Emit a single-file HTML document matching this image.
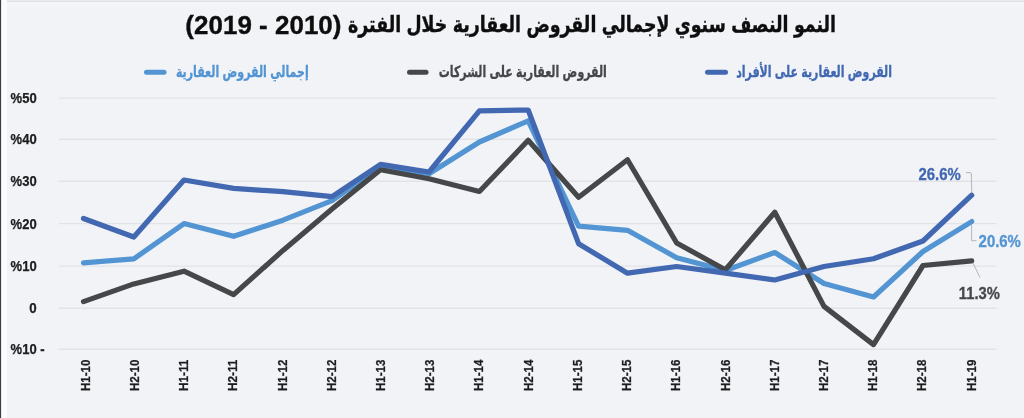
<!DOCTYPE html>
<html lang="ar">
<head>
<meta charset="utf-8">
<title>النمو النصف سنوي لإجمالي القروض العقارية</title>
<style>
html,body{margin:0;padding:0;}
body{width:1024px;height:418px;overflow:hidden;background:#f1f3f7;font-family:"Liberation Sans", "DejaVu Sans", sans-serif;}
svg{display:block;position:absolute;left:0;top:0;}
text{font-family:"Liberation Sans", "DejaVu Sans", sans-serif;font-weight:bold;}
text.ar{font-family:"Liberation Sans", "DejaVu Sans Condensed", "DejaVu Sans", sans-serif;}
.ylab{font-size:14px;fill:#1c1c1e;stroke:#1c1c1e;stroke-width:.25px;}
.xlab{font-size:12.3px;fill:#1c1c1e;stroke:#1c1c1e;stroke-width:.25px;}
.leg{font-size:15.5px;}
.val{font-size:16px;}
</style>
</head>
<body>
<svg width="1024" height="418" viewBox="0 0 1024 418">
<rect x="0" y="0" width="1024" height="418" fill="#f1f3f7"/>
<rect x="0" y="0" width="1024" height="1" fill="#e9eaee"/>
<rect x="0" y="1" width="1024" height="1" fill="#e0e1e6"/>
<rect x="0" y="2" width="1024" height="6" fill="#f4f5f9"/>
<rect x="1" y="0" width="6" height="418" fill="#fafbfe"/>
<rect x="0" y="0" width="1.1" height="418" fill="#3b3c41"/>

<defs><filter id="soft" filterUnits="userSpaceOnUse" x="0" y="0" width="1024" height="418"><feGaussianBlur stdDeviation="0.45"/></filter></defs>
<g filter="url(#soft)">
<text id="title" class="ar" x="836" y="31.7" direction="rtl" font-size="22.5" textLength="488" lengthAdjust="spacingAndGlyphs" fill="#0c0c0e" stroke="#0c0c0e" stroke-width="0.35">النمو النصف سنوي لإجمالي القروض العقارية خلال الفترة</text>
<text id="title2" x="341.5" y="34" direction="rtl" font-size="26" fill="#0c0c0e" stroke="#0c0c0e" stroke-width="0.35">(2010 - 2019)</text>
<g stroke-width="5" stroke-linecap="round" fill="none">
<line x1="146.5" y1="72.2" x2="164" y2="72.2" stroke="#5294d2"/>
<line x1="409.5" y1="72.2" x2="426" y2="72.2" stroke="#454649"/>
<line x1="707.5" y1="72.2" x2="725.5" y2="72.2" stroke="#4267b2"/>
</g>
<text id="leg1" class="leg ar" x="308.7" y="76.8" direction="rtl" textLength="132.8" lengthAdjust="spacingAndGlyphs" fill="#5294d2" stroke="#5294d2" stroke-width="0.3">إجمالي القروض العقارية</text>
<text id="leg2" class="leg ar" x="606.8" y="76.8" direction="rtl" textLength="168" lengthAdjust="spacingAndGlyphs" fill="#454649" stroke="#454649" stroke-width="0.3">القروض العقارية على الشركات</text>
<text id="leg3" class="leg ar" x="892" y="76.8" direction="rtl" textLength="155.8" lengthAdjust="spacingAndGlyphs" fill="#4267b2" stroke="#4267b2" stroke-width="0.3">القروض العقارية على الأفراد</text>
<g stroke="#e2e3e7" stroke-width="1.4">
<line x1="59" y1="98.1" x2="996.5" y2="98.1"/>
<line x1="59" y1="139.2" x2="996.5" y2="139.2"/>
<line x1="59" y1="181.2" x2="996.5" y2="181.2"/>
<line x1="59" y1="223.6" x2="996.5" y2="223.6"/>
<line x1="59" y1="266.1" x2="996.5" y2="266.1"/>
<line x1="59" y1="308.2" x2="996.5" y2="308.2"/>
<line x1="59" y1="349.3" x2="996.5" y2="349.3"/>
</g>
<text class="ylab" x="10.6" y="103.1" textLength="26.1" lengthAdjust="spacingAndGlyphs">%50</text>
<text class="ylab" x="10.6" y="144.2" textLength="26.1" lengthAdjust="spacingAndGlyphs">%40</text>
<text class="ylab" x="10.6" y="186.2" textLength="26.1" lengthAdjust="spacingAndGlyphs">%30</text>
<text class="ylab" x="10.6" y="228.6" textLength="26.1" lengthAdjust="spacingAndGlyphs">%20</text>
<text class="ylab" x="10.6" y="271.1" textLength="26.1" lengthAdjust="spacingAndGlyphs">%10</text>
<text class="ylab" x="29.3" y="313.2" textLength="7.4" lengthAdjust="spacingAndGlyphs">0</text>
<text class="ylab" x="10.6" y="354.3" textLength="34" lengthAdjust="spacingAndGlyphs">%10 -</text>
<text class="xlab" transform="translate(89.70,391) rotate(-90)" textLength="31.4" lengthAdjust="spacingAndGlyphs">H1-10</text>
<text class="xlab" transform="translate(138.92,391) rotate(-90)" textLength="31.4" lengthAdjust="spacingAndGlyphs">H2-10</text>
<text class="xlab" transform="translate(188.14,391) rotate(-90)" textLength="31.4" lengthAdjust="spacingAndGlyphs">H1-11</text>
<text class="xlab" transform="translate(237.36,391) rotate(-90)" textLength="31.4" lengthAdjust="spacingAndGlyphs">H2-11</text>
<text class="xlab" transform="translate(286.58,391) rotate(-90)" textLength="31.4" lengthAdjust="spacingAndGlyphs">H1-12</text>
<text class="xlab" transform="translate(335.80,391) rotate(-90)" textLength="31.4" lengthAdjust="spacingAndGlyphs">H2-12</text>
<text class="xlab" transform="translate(385.02,391) rotate(-90)" textLength="31.4" lengthAdjust="spacingAndGlyphs">H1-13</text>
<text class="xlab" transform="translate(434.24,391) rotate(-90)" textLength="31.4" lengthAdjust="spacingAndGlyphs">H2-13</text>
<text class="xlab" transform="translate(483.46,391) rotate(-90)" textLength="31.4" lengthAdjust="spacingAndGlyphs">H1-14</text>
<text class="xlab" transform="translate(532.68,391) rotate(-90)" textLength="31.4" lengthAdjust="spacingAndGlyphs">H2-14</text>
<text class="xlab" transform="translate(581.90,391) rotate(-90)" textLength="31.4" lengthAdjust="spacingAndGlyphs">H1-15</text>
<text class="xlab" transform="translate(631.12,391) rotate(-90)" textLength="31.4" lengthAdjust="spacingAndGlyphs">H2-15</text>
<text class="xlab" transform="translate(680.34,391) rotate(-90)" textLength="31.4" lengthAdjust="spacingAndGlyphs">H1-16</text>
<text class="xlab" transform="translate(729.56,391) rotate(-90)" textLength="31.4" lengthAdjust="spacingAndGlyphs">H2-16</text>
<text class="xlab" transform="translate(778.78,391) rotate(-90)" textLength="31.4" lengthAdjust="spacingAndGlyphs">H1-17</text>
<text class="xlab" transform="translate(828.00,391) rotate(-90)" textLength="31.4" lengthAdjust="spacingAndGlyphs">H2-17</text>
<text class="xlab" transform="translate(877.22,391) rotate(-90)" textLength="31.4" lengthAdjust="spacingAndGlyphs">H1-18</text>
<text class="xlab" transform="translate(926.44,391) rotate(-90)" textLength="31.4" lengthAdjust="spacingAndGlyphs">H2-18</text>
<text class="xlab" transform="translate(975.66,391) rotate(-90)" textLength="31.4" lengthAdjust="spacingAndGlyphs">H1-19</text>
<g stroke="#b4b5b9" stroke-width="1" fill="none">
<path d="M966 172.6 H970.3 Q971.3 172.6 971.3 174 L971.8 193"/>
<path d="M971.6 225 V240.7 H976.5"/>
<path d="M973 263 L980 277.5"/>
</g>
<g fill="none" stroke-width="5.2" stroke-linejoin="round" stroke-linecap="round">
<polyline stroke="#5294d2" points="83.5,262.8 133.8,258.8 184,223.6 233.6,236.3 283,220.2 332,200.6 380.5,166.4 429,173.8 479.4,142 528.2,120.8 578.6,226.2 627.5,230.3 676.7,257.7 725.3,270.5 774.8,252.5 824,283.5 873.5,297 923,251.5 971.7,221.6"/>
<polyline stroke="#454649" points="83.5,301.6 133.8,283.9 184,271.2 233.6,294.6 283,250.4 332,209 380.5,169.8 429,178.8 479.4,191.5 528.2,140.3 578.6,197.2 627.5,159.7 676.7,243 725.3,269.8 774.8,212.3 824,306.4 873.5,344.6 923,265.5 971.7,260.8"/>
<polyline stroke="#4267b2" points="83.5,218.5 133.8,237 184,180 233.6,188.4 283,191.7 332,196.6 380.5,164.4 429,172 479.4,110.8 528.2,110 578.6,243.7 627.5,273.2 676.7,266.5 725.3,273.2 774.8,280 824,266.5 873.5,258.7 923,241 971.7,195.2"/>
</g>
<text class="val" x="918.4" y="180" textLength="42.3" lengthAdjust="spacingAndGlyphs" fill="#4267b2" stroke="#4267b2" stroke-width="0.3">26.6%</text>
<text class="val" x="978.6" y="247.2" textLength="42.3" lengthAdjust="spacingAndGlyphs" fill="#5294d2" stroke="#5294d2" stroke-width="0.3">20.6%</text>
<text class="val" x="958.8" y="298.8" textLength="41" lengthAdjust="spacingAndGlyphs" fill="#454649" stroke="#454649" stroke-width="0.3">11.3%</text>
</g>
</svg>
</body>
</html>
